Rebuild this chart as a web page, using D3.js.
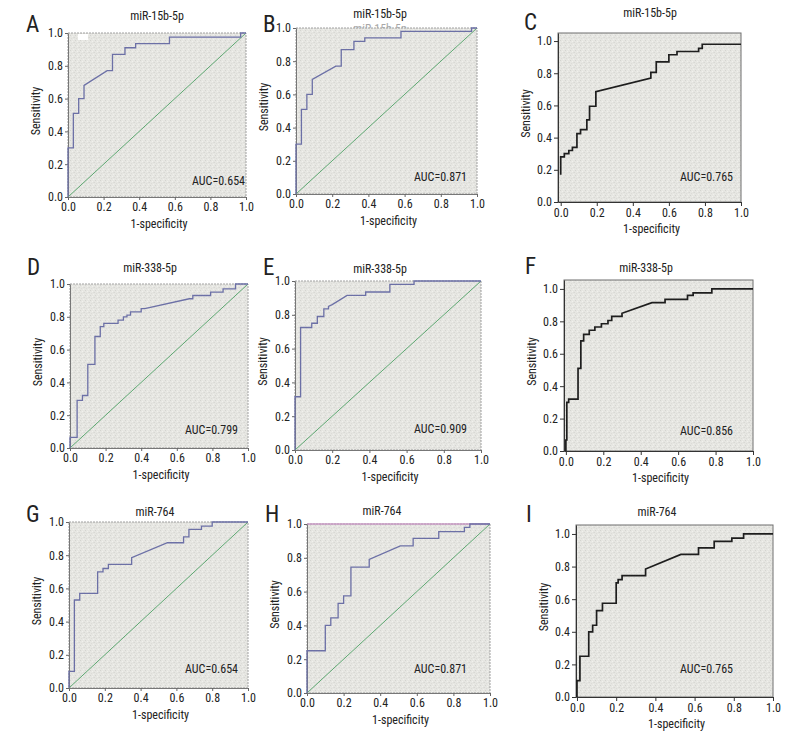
<!DOCTYPE html>
<html>
<head>
<meta charset="utf-8">
<script src="https://cdn.jsdelivr.net/npm/d3@7"></script>
<style>
  html, body { margin: 0; padding: 0; background: #fff; }
  svg { display: block; }
  text { font-family: "Liberation Sans Narrow", "Roboto Condensed", "DejaVu Sans Condensed", sans-serif; fill: #222; }
</style>
</head>
<body>
<svg id="chart" width="800" height="739"></svg>
<script>
const ticks = [0, 0.2, 0.4, 0.6, 0.8, 1.0];
const letters = ['A', 'B', 'C', 'D', 'E', 'F', 'G', 'H', 'I'];
const titles = ['miR-15b-5p', 'miR-15b-5p', 'miR-15b-5p', 'miR-338-5p', 'miR-338-5p', 'miR-338-5p', 'miR-764', 'miR-764', 'miR-764'];
const aucs = ['0.654', '0.871', '0.765', '0.799', '0.909', '0.856', '0.654', '0.871', '0.765'];

// ROC points [1-specificity, sensitivity]
const rocA = [[0, 0], [0, 0.30], [0.03, 0.30], [0.03, 0.51], [0.06, 0.51], [0.06, 0.60], [0.09, 0.60], [0.09, 0.68],
  [0.22, 0.77], [0.25, 0.77], [0.25, 0.87], [0.32, 0.87], [0.32, 0.91], [0.38, 0.91], [0.38, 0.935], [0.57, 0.935],
  [0.57, 0.975], [0.97, 0.975], [0.97, 1.0], [1, 1]];
const rocB = [[0, 0], [0, 0.30], [0.03, 0.30], [0.03, 0.51], [0.06, 0.51], [0.06, 0.60], [0.09, 0.60], [0.09, 0.69],
  [0.22, 0.77], [0.25, 0.77], [0.25, 0.87], [0.32, 0.87], [0.32, 0.92], [0.38, 0.92], [0.38, 0.94], [0.58, 0.94],
  [0.58, 0.98], [0.97, 0.98], [0.97, 1.0], [1, 1]];
const rocC = [[0, 0.17], [0, 0.28], [0.02, 0.28], [0.02, 0.30], [0.045, 0.30], [0.045, 0.32], [0.065, 0.32], [0.065, 0.34],
  [0.09, 0.34], [0.09, 0.425], [0.11, 0.425], [0.11, 0.45], [0.145, 0.45], [0.145, 0.51], [0.16, 0.51], [0.16, 0.595],
  [0.195, 0.595], [0.195, 0.685], [0.50, 0.77], [0.50, 0.805], [0.53, 0.805], [0.53, 0.87], [0.60, 0.87], [0.60, 0.915],
  [0.645, 0.915], [0.645, 0.935], [0.765, 0.935], [0.765, 0.955], [0.785, 0.955], [0.785, 0.98], [1.0, 0.98]];
const rocD = [[0, 0], [0, 0.065], [0.04, 0.065], [0.04, 0.29], [0.07, 0.29], [0.07, 0.32], [0.10, 0.32], [0.10, 0.51],
  [0.14, 0.51], [0.14, 0.68], [0.17, 0.68], [0.17, 0.74], [0.19, 0.74], [0.19, 0.76], [0.27, 0.76], [0.27, 0.78],
  [0.30, 0.78], [0.30, 0.80], [0.32, 0.80], [0.32, 0.81], [0.34, 0.81], [0.34, 0.83], [0.40, 0.83], [0.40, 0.85],
  [0.42, 0.85], [0.67, 0.91], [0.69, 0.91], [0.69, 0.93], [0.79, 0.93], [0.79, 0.95], [0.86, 0.95], [0.86, 0.97],
  [0.93, 0.97], [0.93, 1.0], [1, 1]];
const rocE = [[0, 0], [0, 0.315], [0.03, 0.315], [0.03, 0.725], [0.09, 0.725], [0.09, 0.75], [0.12, 0.75], [0.12, 0.79],
  [0.155, 0.79], [0.155, 0.835], [0.18, 0.835], [0.18, 0.85], [0.20, 0.86], [0.28, 0.915], [0.38, 0.915], [0.38, 0.935],
  [0.51, 0.935], [0.51, 0.98], [0.64, 0.98], [0.64, 1.0], [1, 1]];
const rocF = [[0, 0], [0, 0.068], [0.005, 0.068], [0.005, 0.30], [0.015, 0.30], [0.015, 0.32], [0.065, 0.32], [0.065, 0.51],
  [0.08, 0.51], [0.08, 0.68], [0.095, 0.68], [0.095, 0.72], [0.125, 0.72], [0.125, 0.745], [0.155, 0.745], [0.155, 0.765],
  [0.19, 0.765], [0.19, 0.785], [0.225, 0.785], [0.225, 0.805], [0.245, 0.805], [0.245, 0.83], [0.30, 0.83], [0.30, 0.85],
  [0.46, 0.915], [0.53, 0.915], [0.53, 0.935], [0.65, 0.935], [0.65, 0.96], [0.68, 0.96], [0.68, 0.975], [0.78, 0.975],
  [0.78, 1.0], [1, 1]];
const rocG = [[0, 0], [0, 0.10], [0.03, 0.10], [0.03, 0.53], [0.06, 0.53], [0.06, 0.57], [0.16, 0.57], [0.16, 0.70],
  [0.19, 0.70], [0.19, 0.72], [0.22, 0.72], [0.22, 0.745], [0.35, 0.745], [0.35, 0.785], [0.55, 0.875], [0.64, 0.875],
  [0.64, 0.91], [0.67, 0.91], [0.67, 0.955], [0.74, 0.955], [0.74, 0.975], [0.80, 0.975], [0.80, 1.0], [1, 1]];
const rocH = [[0, 0], [0, 0.25], [0.10, 0.25], [0.10, 0.40], [0.13, 0.40], [0.13, 0.445], [0.17, 0.445], [0.17, 0.53],
  [0.20, 0.53], [0.20, 0.575], [0.24, 0.575], [0.24, 0.745], [0.34, 0.745], [0.34, 0.79], [0.51, 0.87], [0.58, 0.87],
  [0.58, 0.915], [0.72, 0.915], [0.72, 0.955], [0.86, 0.955], [0.86, 0.98], [0.89, 0.98], [0.89, 1.0], [1, 1]];
const rocI = [[0, 0], [0, 0.10], [0.015, 0.10], [0.015, 0.25], [0.06, 0.25], [0.06, 0.40], [0.08, 0.40], [0.08, 0.44],
  [0.10, 0.44], [0.10, 0.53], [0.13, 0.53], [0.13, 0.575], [0.20, 0.575], [0.20, 0.70], [0.21, 0.70], [0.21, 0.72],
  [0.23, 0.72], [0.23, 0.745], [0.35, 0.745], [0.35, 0.785], [0.53, 0.875], [0.62, 0.875], [0.62, 0.915], [0.70, 0.915],
  [0.70, 0.955], [0.79, 0.955], [0.79, 0.975], [0.85, 0.975], [0.85, 1.0], [1, 1]];
const rocs = [rocA, rocB, rocC, rocD, rocE, rocF, rocG, rocH, rocI];
const diagonal = [[0, 0], [1, 1]];

// panel boxes and text placement (pixels)
const layout = [
  { l: 68, r: 246, t: 33, b: 197, lx: 26, ly: 32, tx: 157, ty: 17, ax: 245, ay: 182, dark: false, chip: true },
  { l: 296, r: 477, t: 28, b: 194, lx: 263, ly: 32, tx: 380, ty: 15, ax: 467, ay: 178, dark: false },
  { l: 558, r: 741, t: 33, b: 202, lx: 524, ly: 30, tx: 650, ty: 14, ax: 733, ay: 178, dark: true, xmin: -0.015, ymax: 1.05 },
  { l: 70, r: 248, t: 284, b: 448, lx: 27, ly: 275, tx: 150, ty: 269, ax: 238, ay: 431, dark: false },
  { l: 295, r: 481, t: 281, b: 450, lx: 263, ly: 275, tx: 380, ty: 270, ax: 467, ay: 430, dark: false },
  { l: 564, r: 753, t: 280, b: 451, lx: 525, ly: 274, tx: 646, ty: 269, ax: 733, ay: 432, dark: true, xmin: -0.01, ymax: 1.055 },
  { l: 69, r: 248, t: 522, b: 688, lx: 26, ly: 522, tx: 155, ty: 513, ax: 238, ay: 670, dark: false },
  { l: 307, r: 490, t: 524, b: 693, lx: 265, ly: 522, tx: 382, ty: 512, ax: 467, ay: 670, dark: false, pinkTop: true },
  { l: 576, r: 773, t: 525, b: 697, lx: 526, ly: 522, tx: 657, ty: 513, ax: 733, ay: 670, dark: true, xmin: -0.005, ymax: 1.055 },
];

const svg = d3.select('#chart');

// speckled grey plot background
const defs = svg.append('defs');
const pat = defs.append('pattern')
  .attr('id', 'speckle')
  .attr('patternUnits', 'userSpaceOnUse')
  .attr('width', 5).attr('height', 5);
pat.append('rect').attr('width', 5).attr('height', 5).attr('fill', '#e6e6e2');
[[0, 0, '#d4d4d0'], [2, 1, '#f1f1ed'], [4, 2, '#d8d8d4'], [1, 3, '#dcdcd8'], [3, 4, '#f0f0ec'], [3, 2, '#dededa']]
  .forEach(([x, y, c]) => pat.append('rect').attr('x', x).attr('y', y).attr('width', 1).attr('height', 1).attr('fill', c));

layout.forEach((p, i) => {
  const x = d3.scaleLinear().domain([p.xmin || 0, 1]).range([p.l, p.r]);
  const y = d3.scaleLinear().domain([0, p.ymax || 1]).range([p.b, p.t]);
  const g = svg.append('g');

  g.append('rect')
    .attr('x', p.l).attr('y', p.t)
    .attr('width', p.r - p.l).attr('height', p.b - p.t)
    .attr('fill', 'url(#speckle)')
    .attr('stroke', p.dark ? '#6e6e6e' : '#a0a0a0')
    .attr('stroke-dasharray', p.dark ? null : '2,1')
    .attr('stroke-width', 1);

  if (p.pinkTop) {
    g.append('line')
      .attr('x1', p.l).attr('x2', p.r).attr('y1', p.t).attr('y2', p.t)
      .attr('stroke', '#c99ac4').attr('stroke-width', 1.5);
  }
  if (p.chip) {
    g.append('rect').attr('x', p.l + 10).attr('y', p.t + 1)
      .attr('width', 10).attr('height', 6).attr('fill', '#fff');
  }

  // axes
  const tickLen = p.dark ? 4 : 3;
  const xAxis = d3.axisBottom(x).tickValues(ticks).tickFormat(d3.format('.1f')).tickSize(tickLen).tickSizeOuter(0);
  const yAxis = d3.axisLeft(y).tickValues(ticks).tickFormat(d3.format('.1f')).tickSize(tickLen).tickSizeOuter(0);
  const gx = g.append('g').attr('transform', `translate(0,${p.b})`).call(xAxis);
  const gy = g.append('g').attr('transform', `translate(${p.l},0)`).call(yAxis);
  [gx, gy].forEach(a => {
    a.select('.domain').attr('stroke', p.dark ? '#333' : '#777');
    a.selectAll('.tick line').attr('stroke', p.dark ? '#333' : '#666');
    a.selectAll('.tick text').attr('font-size', 12).style('fill', '#222')
      .attr('font-family', '"Liberation Sans Narrow", "Roboto Condensed", "DejaVu Sans Condensed", sans-serif');
  });
  gx.selectAll('.tick text').attr('y', tickLen + 2).attr('dy', '0.71em');
  gy.selectAll('.tick text').attr('x', -tickLen - 2);

  // reference diagonal (SPSS panels only)
  const line = d3.line().x(d => x(d[0])).y(d => y(d[1]));
  if (!p.dark) {
    g.append('path').attr('d', line(diagonal))
      .attr('fill', 'none').attr('stroke', '#5ea872').attr('stroke-width', 1);
  }

  g.append('path').attr('d', line(rocs[i]))
    .attr('fill', 'none')
    .attr('stroke', p.dark ? '#1e1e1e' : '#6c70a6')
    .attr('stroke-width', p.dark ? 1.7 : 1.3)
    .attr('stroke-linejoin', 'miter');

  // texts
  g.append('text').text(letters[i])
    .attr('x', p.lx).attr('y', p.ly)
    .attr('font-size', 23);

  g.append('text').text(titles[i])
    .attr('x', p.tx).attr('y', p.ty)
    .attr('text-anchor', 'middle').attr('dominant-baseline', 'middle')
    .attr('font-size', 12);

  g.append('text').text('AUC=' + aucs[i])
    .attr('x', p.ax).attr('y', p.ay)
    .attr('text-anchor', 'end').attr('dominant-baseline', 'middle')
    .attr('font-size', 12);

  g.append('text').text('Sensitivity')
    .attr('transform', `translate(${p.l - 31},${(p.t + p.b) / 2 - 4}) rotate(-90)`)
    .attr('text-anchor', 'middle').attr('dominant-baseline', 'middle')
    .attr('font-size', 12);

  g.append('text').text('1-specificity')
    .attr('x', (p.l + p.r) / 2 + 2).attr('y', p.b + 28)
    .attr('text-anchor', 'middle').attr('dominant-baseline', 'middle')
    .attr('font-size', 12);
});

// faint duplicate of the B title, cut off by the plot box
const pb = layout[1];
defs.append('clipPath').attr('id', 'ghostclip')
  .append('rect').attr('x', pb.l).attr('y', 0).attr('width', pb.r - pb.l).attr('height', pb.t);
svg.append('text').text(titles[1])
  .attr('x', pb.tx).attr('y', pb.t + 2)
  .attr('text-anchor', 'middle').attr('dominant-baseline', 'middle')
  .attr('font-size', 12).style('fill', '#a8a8a8')
  .attr('clip-path', 'url(#ghostclip)');
</script>
</body>
</html>
